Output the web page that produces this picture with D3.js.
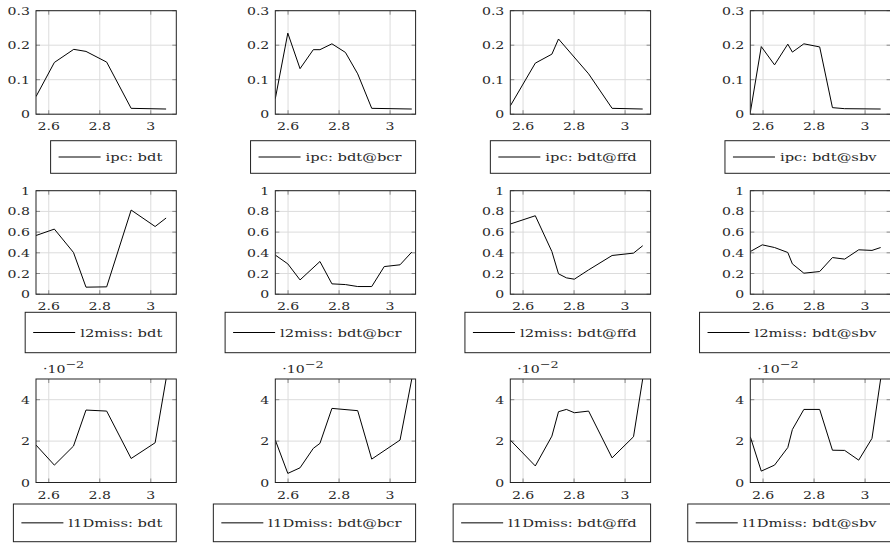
<!DOCTYPE html>
<html><head><meta charset="utf-8">
<script src="https://cdn.jsdelivr.net/npm/d3@7"></script>
<style>
html,body{margin:0;padding:0;background:#fff;}
svg{display:block;}
text{font-family:"DejaVu Serif",serif;fill:#2a2a2a;}
</style></head>
<body>
<script>
// ---- data ----
const metrics = ["ipc", "l2miss", "l1Dmiss"];
const variants = ["bdt", "bdt@bcr", "bdt@ffd", "bdt@sbv"];
const xTicks = [2.6, 2.8, 3.0];
const xTickLabels = ["2.6", "2.8", "3"];
const ipcTicks = [0, 0.1, 0.2, 0.3];
const ipcTickLabels = ["0", "0.1", "0.2", "0.3"];
const l2Ticks = [0, 0.2, 0.4, 0.6, 0.8, 1];
const l2TickLabels = ["0", "0.2", "0.4", "0.6", "0.8", "1"];
const l1Ticks = [0, 0.02, 0.04];
const l1TickLabels = ["0", "2", "4"];

const ipc_bdt_x = [2.55, 2.622, 2.698, 2.746, 2.827, 2.923, 3.06];
const ipc_bdt_y = [0.051, 0.150, 0.188, 0.182, 0.151, 0.017, 0.015];
const ipc_bcr_x = [2.55, 2.599, 2.647, 2.699, 2.725, 2.772, 2.825, 2.873, 2.928, 3.085];
const ipc_bcr_y = [0.045, 0.235, 0.132, 0.187, 0.187, 0.204, 0.179, 0.117, 0.017, 0.015];
const ipc_ffd_x = [2.55, 2.648, 2.713, 2.739, 2.857, 2.949, 3.069];
const ipc_ffd_y = [0.024, 0.148, 0.174, 0.218, 0.117, 0.017, 0.015];
const ipc_sbv_x = [2.55, 2.593, 2.645, 2.697, 2.715, 2.760, 2.822, 2.872, 2.92, 3.061];
const ipc_sbv_y = [0.005, 0.196, 0.143, 0.203, 0.180, 0.204, 0.195, 0.019, 0.016, 0.015];

const l2_bdt_x = [2.55, 2.622, 2.697, 2.746, 2.827, 2.923, 3.017, 3.06];
const l2_bdt_y = [0.567, 0.629, 0.403, 0.068, 0.071, 0.813, 0.654, 0.736];
const l2_bcr_x = [2.55, 2.599, 2.647, 2.725, 2.772, 2.825, 2.873, 2.928, 2.977, 3.039, 3.085];
const l2_bcr_y = [0.378, 0.293, 0.138, 0.316, 0.100, 0.093, 0.074, 0.074, 0.267, 0.284, 0.407];
const l2_ffd_x = [2.55, 2.648, 2.713, 2.739, 2.770, 2.801, 2.857, 2.949, 3.033, 3.069];
const l2_ffd_y = [0.678, 0.758, 0.412, 0.197, 0.158, 0.145, 0.235, 0.374, 0.397, 0.468];
const l2_sbv_x = [2.55, 2.597, 2.645, 2.697, 2.715, 2.760, 2.822, 2.872, 2.92, 2.975, 3.027, 3.061];
const l2_sbv_y = [0.412, 0.477, 0.451, 0.403, 0.293, 0.203, 0.219, 0.354, 0.339, 0.429, 0.423, 0.451];

const l1_bdt_x = [2.55, 2.622, 2.697, 2.746, 2.827, 2.923, 3.017, 3.06];
const l1_bdt_y = [0.0181, 0.0084, 0.0176, 0.0350, 0.0345, 0.0116, 0.0192, 0.050];
const l1_bcr_x = [2.55, 2.599, 2.647, 2.699, 2.725, 2.772, 2.873, 2.928, 3.039, 3.085];
const l1_bcr_y = [0.0205, 0.0044, 0.0071, 0.0165, 0.0189, 0.0358, 0.0347, 0.0113, 0.0205, 0.050];
const l1_ffd_x = [2.55, 2.648, 2.713, 2.739, 2.770, 2.801, 2.857, 2.949, 3.033, 3.069];
const l1_ffd_y = [0.0205, 0.0080, 0.0224, 0.0342, 0.0353, 0.0337, 0.0345, 0.0119, 0.0221, 0.050];
const l1_sbv_x = [2.55, 2.593, 2.645, 2.697, 2.715, 2.760, 2.822, 2.872, 2.92, 2.975, 3.027, 3.061];
const l1_sbv_y = [0.0221, 0.0055, 0.0084, 0.0169, 0.0256, 0.0353, 0.0353, 0.0156, 0.0155, 0.0108, 0.0213, 0.050];

// ---- layout ----
const W = 890, H = 543;
const xDomain = [2.55, 3.1];
const colLeft = [36, 275.3, 510.3, 750.3];
const plotW = 140.3;
const rowTop = [10.7, 190.7, 379];
const plotH = 103.5;
const legTop = [140.7, 312.3, 504];
const legH = [32.6, 40.4, 37.7];
const SX = 1.28;

const rows = [
  {ticks: ipcTicks, labels: ipcTickLabels, domain: [0, 0.3],
   series: [[ipc_bdt_x, ipc_bdt_y], [ipc_bcr_x, ipc_bcr_y], [ipc_ffd_x, ipc_ffd_y], [ipc_sbv_x, ipc_sbv_y]]},
  {ticks: l2Ticks, labels: l2TickLabels, domain: [0, 1],
   series: [[l2_bdt_x, l2_bdt_y], [l2_bcr_x, l2_bcr_y], [l2_ffd_x, l2_ffd_y], [l2_sbv_x, l2_sbv_y]]},
  {ticks: l1Ticks, labels: l1TickLabels, domain: [0, 0.05], exponent: true,
   series: [[l1_bdt_x, l1_bdt_y], [l1_bcr_x, l1_bcr_y], [l1_ffd_x, l1_ffd_y], [l1_sbv_x, l1_sbv_y]]}
];

const svg = d3.select("body").append("svg").attr("width", W).attr("height", H);
const defs = svg.append("defs");

rows.forEach((row, r) => {
  variants.forEach((v, c) => {
    const x0 = colLeft[c], y0 = rowTop[r];
    const x = d3.scaleLinear().domain(xDomain).range([x0, x0 + plotW]);
    const y = d3.scaleLinear().domain(row.domain).range([y0 + plotH, y0]);
    const g = svg.append("g");
    const id = "clip" + r + "_" + c;
    defs.append("clipPath").attr("id", id).append("rect")
      .attr("x", x0).attr("y", y0).attr("width", plotW).attr("height", plotH);

    // grid
    g.selectAll(".gx").data(xTicks).join("line")
      .attr("x1", d => x(d)).attr("x2", d => x(d)).attr("y1", y0).attr("y2", y0 + plotH)
      .attr("stroke", "#dcdcdc").attr("stroke-width", 1);
    g.selectAll(".gy").data(row.ticks).join("line")
      .attr("x1", x0).attr("x2", x0 + plotW).attr("y1", d => y(d)).attr("y2", d => y(d))
      .attr("stroke", "#dcdcdc").attr("stroke-width", 1);
    // tick marks (inside, both sides)
    const tl = 4;
    xTicks.forEach(t => {
      g.append("line").attr("x1", x(t)).attr("x2", x(t)).attr("y1", y0 + plotH).attr("y2", y0 + plotH - tl).attr("stroke", "#8a8a8a");
      g.append("line").attr("x1", x(t)).attr("x2", x(t)).attr("y1", y0).attr("y2", y0 + tl).attr("stroke", "#8a8a8a");
    });
    row.ticks.forEach(t => {
      g.append("line").attr("x1", x0).attr("x2", x0 + tl).attr("y1", y(t)).attr("y2", y(t)).attr("stroke", "#8a8a8a");
      g.append("line").attr("x1", x0 + plotW).attr("x2", x0 + plotW - tl).attr("y1", y(t)).attr("y2", y(t)).attr("stroke", "#8a8a8a");
    });

    // data line
    const pts = row.series[c][0].map((xv, i) => [xv, row.series[c][1][i]]);
    g.append("path").datum(pts)
      .attr("clip-path", "url(#" + id + ")")
      .attr("fill", "none").attr("stroke", "#000").attr("stroke-width", 1)
      .attr("d", d3.line().x(d => x(d[0])).y(d => y(d[1])));

    // frame
    g.append("rect").attr("x", x0).attr("y", y0).attr("width", plotW).attr("height", plotH)
      .attr("fill", "none").attr("stroke", "#222").attr("stroke-width", 1);

    // tick labels
    xTicks.forEach((t, i) => {
      g.append("text").attr("transform", `translate(${x(t)},${y0 + plotH + 16}) scale(${SX},1)`)
        .attr("text-anchor", "middle").attr("font-size", 11).text(xTickLabels[i]);
    });
    row.ticks.forEach((t, i) => {
      g.append("text").attr("transform", `translate(${x0 - 6},${y(t) + 4}) scale(${SX},1)`)
        .attr("text-anchor", "end").attr("font-size", 11).text(row.labels[i]);
    });
    if (row.exponent) {
      const et = g.append("text").attr("transform", `translate(${x0 + 7},${y0 - 6}) scale(${SX},1)`)
        .attr("font-size", 11);
      et.append("tspan").text("\u00B710");
      et.append("tspan").attr("dy", -5).attr("font-size", 10).text("\u22122");
    }

    // legend
    const boxRight = x0 + plotW;
    const lt = legTop[r], lh = legH[r];
    const cy = lt + lh / 2;
    const lg = svg.append("g");
    const txt = lg.append("text").attr("transform", `translate(${boxRight - 14},${cy + 4}) scale(${SX},1)`)
      .attr("text-anchor", "end").attr("font-size", 11.5).text(metrics[r] + ": " + v);
    const tw = txt.node().getComputedTextLength() * SX;
    const textLeft = boxRight - 14 - tw;
    const lineR = textLeft - 5, lineL = lineR - 42;
    lg.append("line").attr("x1", lineL).attr("x2", lineR).attr("y1", cy).attr("y2", cy)
      .attr("stroke", "#000").attr("stroke-width", 1);
    lg.insert("rect", "text").attr("x", lineL - 8).attr("y", lt).attr("width", boxRight - (lineL - 8)).attr("height", lh)
      .attr("fill", "#fff").attr("stroke", "#222").attr("stroke-width", 1);
  });
});
</script>
</body></html>
